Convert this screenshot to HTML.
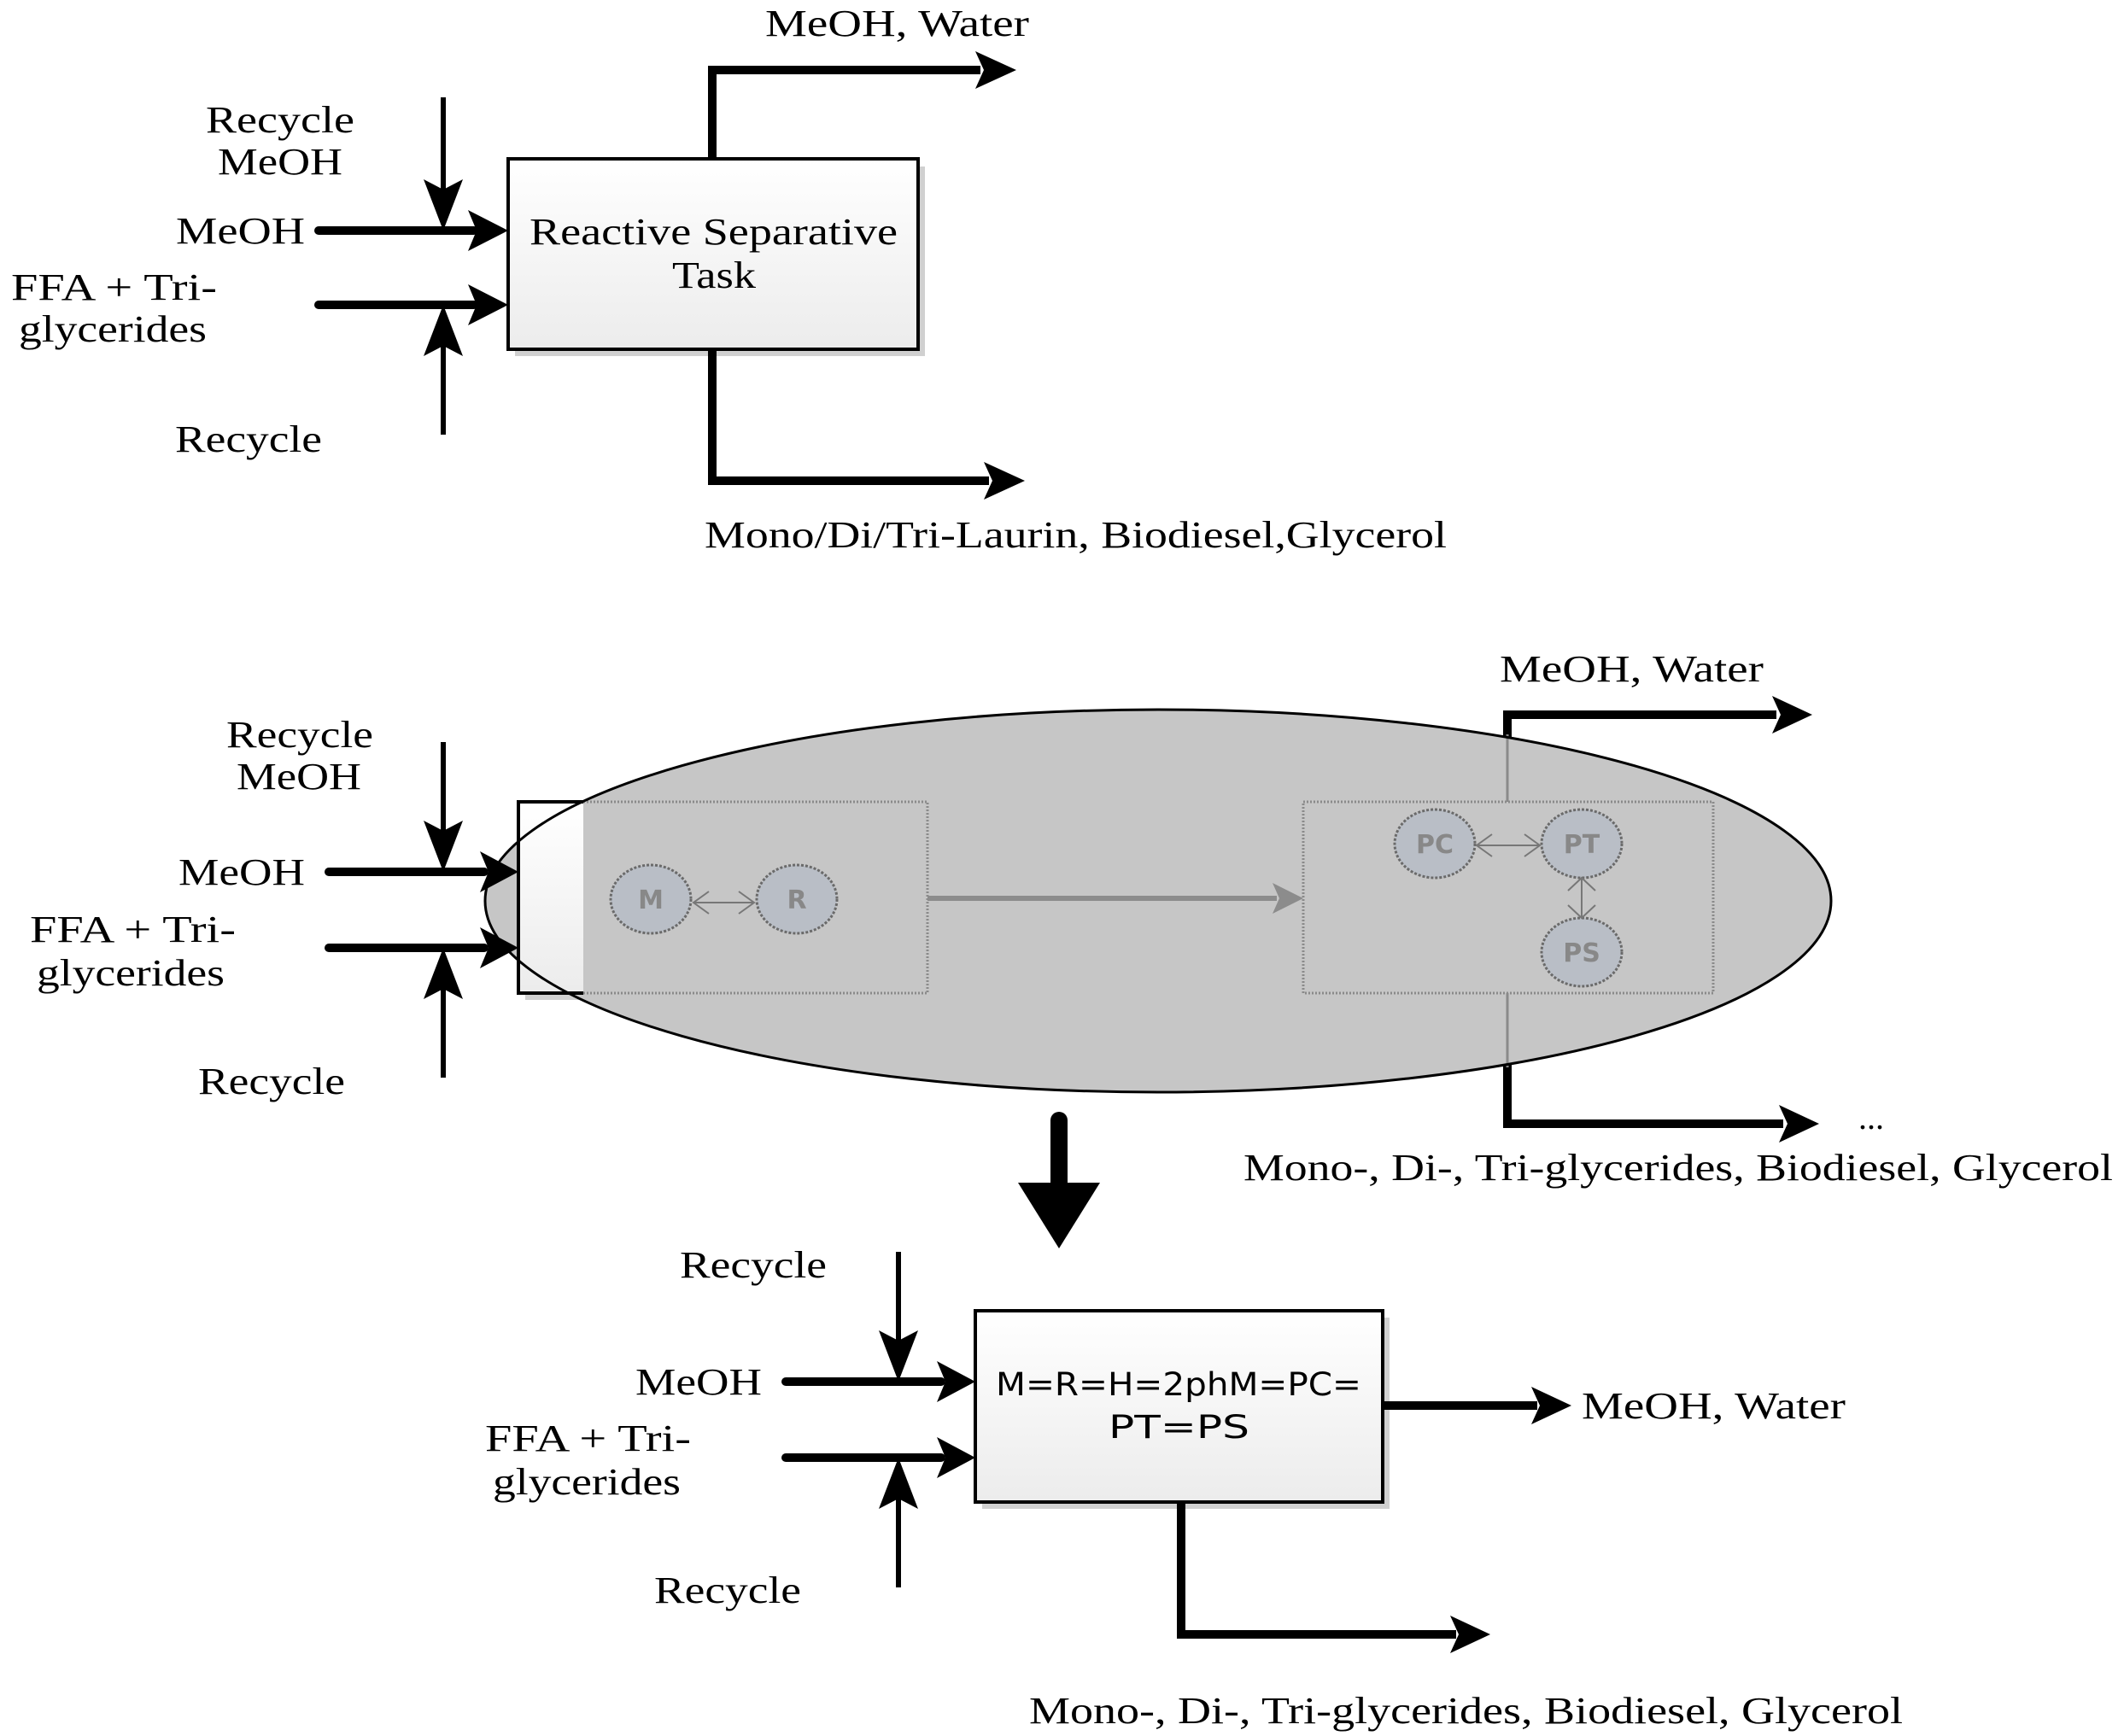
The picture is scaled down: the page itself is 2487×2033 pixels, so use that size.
<!DOCTYPE html>
<html><head><meta charset="utf-8"><style>html,body{margin:0;padding:0;background:#fff}svg{display:block}</style></head>
<body>
<svg width="2487" height="2033" viewBox="0 0 2487 2033" xmlns="http://www.w3.org/2000/svg" font-family="'Liberation Serif', serif" font-size="44" fill="#000">
<defs>
<linearGradient id="bg" x1="0" y1="0" x2="0" y2="1"><stop offset="0" stop-color="#ffffff"/><stop offset="1" stop-color="#ececec"/></linearGradient>
</defs>

<!-- ========== TOP ========== -->
<rect x="603" y="195" width="480" height="222" fill="#d0d0d0"/>
<rect x="595" y="186" width="480" height="223" fill="url(#bg)" stroke="#000" stroke-width="4"/>
<text x="620" y="286" textLength="431" lengthAdjust="spacingAndGlyphs">Reactive Separative</text>
<text x="787" y="337" textLength="98" lengthAdjust="spacingAndGlyphs">Task</text>
<!-- top out -->
<polyline points="834,186 834,82 1148,82" fill="none" stroke="#000" stroke-width="10"/>
<polygon points="1190,82 1142,60 1152,82 1142,104"/>
<text x="896" y="42" textLength="309" lengthAdjust="spacingAndGlyphs">MeOH, Water</text>
<!-- bottom out -->
<polyline points="834,409 834,563 1158,563" fill="none" stroke="#000" stroke-width="10"/>
<polygon points="1200,563 1152,541 1162,563 1152,585"/>
<text x="825" y="641" textLength="869" lengthAdjust="spacingAndGlyphs">Mono/Di/Tri-Laurin, Biodiesel,Glycerol</text>
<!-- inputs -->
<line x1="373" y1="270" x2="555" y2="270" stroke="#000" stroke-width="10" stroke-linecap="round"/>
<polygon points="595,270 548,246 558,270 548,294"/>
<line x1="373" y1="357" x2="555" y2="357" stroke="#000" stroke-width="10" stroke-linecap="round"/>
<polygon points="595,357 548,333 558,357 548,381"/>
<line x1="519" y1="114" x2="519" y2="230" stroke="#000" stroke-width="6"/>
<polygon points="519,270 496,210 519,222 542,210"/>
<line x1="519" y1="509" x2="519" y2="395" stroke="#000" stroke-width="6"/>
<polygon points="519,357 496,417 519,405 542,417"/>
<text x="241" y="155" textLength="174" lengthAdjust="spacingAndGlyphs">Recycle</text>
<text x="255" y="204" textLength="146" lengthAdjust="spacingAndGlyphs">MeOH</text>
<text x="206" y="285" textLength="151" lengthAdjust="spacingAndGlyphs">MeOH</text>
<text x="13" y="351" textLength="241" lengthAdjust="spacingAndGlyphs">FFA + Tri-</text>
<text x="22" y="400" textLength="220" lengthAdjust="spacingAndGlyphs">glycerides</text>
<text x="205" y="529" textLength="172" lengthAdjust="spacingAndGlyphs">Recycle</text>

<!-- ========== MIDDLE ========== -->
<!-- right outputs -->
<polyline points="1765,939 1765,837 2080,837" fill="none" stroke="#000" stroke-width="10"/>
<polygon points="2122,837 2075,815 2085,837 2075,859"/>
<polyline points="1765,1163 1765,1316 2088,1316" fill="none" stroke="#000" stroke-width="10"/>
<polygon points="2130,1316 2083,1294 2093,1316 2083,1338"/>
<text x="1756" y="798" textLength="309" lengthAdjust="spacingAndGlyphs">MeOH, Water</text>
<text x="2176" y="1322" font-size="40">...</text>
<text x="1456" y="1382" textLength="1018" lengthAdjust="spacingAndGlyphs">Mono-, Di-, Tri-glycerides, Biodiesel, Glycerol</text>

<!-- left box shadow + base -->
<rect x="615" y="947" width="479" height="224" fill="#d0d0d0"/>
<rect x="607" y="939" width="479" height="224" fill="url(#bg)" stroke="#000" stroke-width="4"/>
<!-- ellipse -->
<ellipse cx="1356" cy="1055" rx="788" ry="224" fill="#c6c6c6"/>
<!-- white left part of box over ellipse -->
<rect x="609" y="941" width="74" height="220" fill="url(#bg)"/>
<line x1="607" y1="939" x2="683" y2="939" stroke="#000" stroke-width="4"/>
<line x1="607" y1="1163" x2="683" y2="1163" stroke="#000" stroke-width="4"/>
<line x1="607" y1="937" x2="607" y2="1165" stroke="#000" stroke-width="4"/>
<!-- dotted box outlines -->
<polyline points="683,939 1086,939 1086,1163 683,1163" fill="none" stroke="#8a8a8a" stroke-width="3" stroke-dasharray="2,2"/>
<rect x="1526" y="939" width="480" height="224" fill="none" stroke="#8a8a8a" stroke-width="3" stroke-dasharray="2,2"/>
<line x1="1765" y1="860" x2="1765" y2="939" stroke="#8a8a8a" stroke-width="3"/>
<line x1="1765" y1="1163" x2="1765" y2="1250" stroke="#8a8a8a" stroke-width="3"/>
<!-- gray arrow -->
<line x1="1086" y1="1052" x2="1495" y2="1052" stroke="#8c8c8c" stroke-width="6"/>
<polygon points="1526,1052 1490,1034 1498,1052 1490,1070" fill="#8c8c8c"/>
<!-- nodes -->
<g fill="#b9bec6" stroke="#6a6a6a" stroke-width="3" stroke-dasharray="3,2">
<ellipse cx="762" cy="1053" rx="47" ry="40"/>
<ellipse cx="933" cy="1053" rx="47" ry="40"/>
<ellipse cx="1680" cy="988" rx="47" ry="40"/>
<ellipse cx="1852" cy="988" rx="47" ry="40"/>
<ellipse cx="1852" cy="1115" rx="47" ry="40"/>
</g>
<g stroke="#777" stroke-width="2" fill="none">
<line x1="812" y1="1057" x2="883" y2="1057"/>
<polyline points="830,1044 812,1057 830,1070"/><polyline points="865,1044 883,1057 865,1070"/>
<line x1="1729" y1="990" x2="1803" y2="990"/>
<polyline points="1747,977 1729,990 1747,1003"/><polyline points="1785,977 1803,990 1785,1003"/>
<line x1="1852" y1="1028" x2="1852" y2="1075"/>
<polyline points="1836,1043 1852,1028 1868,1043"/><polyline points="1836,1060 1852,1075 1868,1060"/>
</g>
<g font-family="'DejaVu Sans', 'Liberation Sans', sans-serif" font-size="30" fill="#888" font-weight="bold" text-anchor="middle">
<text x="762" y="1064">M</text>
<text x="933" y="1064">R</text>
<text x="1680" y="999">PC</text>
<text x="1852" y="999">PT</text>
<text x="1852" y="1126">PS</text>
</g>
<ellipse cx="1356" cy="1055" rx="788" ry="224" fill="none" stroke="#000" stroke-width="3"/>

<!-- middle inputs -->
<line x1="385" y1="1021" x2="567" y2="1021" stroke="#000" stroke-width="10" stroke-linecap="round"/>
<polygon points="607,1021 562,997 572,1021 562,1045"/>
<line x1="385" y1="1110" x2="567" y2="1110" stroke="#000" stroke-width="10" stroke-linecap="round"/>
<polygon points="607,1110 562,1086 572,1110 562,1134"/>
<line x1="519" y1="869" x2="519" y2="981" stroke="#000" stroke-width="6"/>
<polygon points="519,1021 496,961 519,973 542,961"/>
<line x1="519" y1="1262" x2="519" y2="1150" stroke="#000" stroke-width="6"/>
<polygon points="519,1110 496,1170 519,1158 542,1170"/>
<text x="265" y="875" textLength="172" lengthAdjust="spacingAndGlyphs">Recycle</text>
<text x="277" y="924" textLength="146" lengthAdjust="spacingAndGlyphs">MeOH</text>
<text x="209" y="1036" textLength="148" lengthAdjust="spacingAndGlyphs">MeOH</text>
<text x="35" y="1103" textLength="241" lengthAdjust="spacingAndGlyphs">FFA + Tri-</text>
<text x="43" y="1154" textLength="220" lengthAdjust="spacingAndGlyphs">glycerides</text>
<text x="232" y="1281" textLength="172" lengthAdjust="spacingAndGlyphs">Recycle</text>

<!-- big down arrow -->
<line x1="1240" y1="1312" x2="1240" y2="1392" stroke="#000" stroke-width="20" stroke-linecap="round"/>
<polygon points="1192,1385 1288,1385 1240,1462"/>

<!-- ========== BOTTOM ========== -->
<rect x="1150" y="1543" width="477" height="224" fill="#d0d0d0"/>
<rect x="1142" y="1535" width="477" height="224" fill="url(#bg)" stroke="#000" stroke-width="4"/>
<g font-family="'DejaVu Sans', 'Liberation Sans', sans-serif" font-size="37">
<text x="1166" y="1634" textLength="428" lengthAdjust="spacingAndGlyphs">M=R=H=2phM=PC=</text>
<text x="1298" y="1684" textLength="165" lengthAdjust="spacingAndGlyphs">PT=PS</text>
</g>
<line x1="1619" y1="1646" x2="1800" y2="1646" stroke="#000" stroke-width="10"/>
<polygon points="1840,1646 1793,1624 1803,1646 1793,1668"/>
<text x="1852" y="1661" textLength="309" lengthAdjust="spacingAndGlyphs">MeOH, Water</text>
<polyline points="1383,1759 1383,1914 1705,1914" fill="none" stroke="#000" stroke-width="10"/>
<polygon points="1745,1914 1698,1892 1708,1914 1698,1936"/>
<text x="1205" y="2018" textLength="1023" lengthAdjust="spacingAndGlyphs">Mono-, Di-, Tri-glycerides, Biodiesel, Glycerol</text>
<!-- inputs -->
<line x1="920" y1="1618" x2="1102" y2="1618" stroke="#000" stroke-width="10" stroke-linecap="round"/>
<polygon points="1142,1618 1097,1594 1107,1618 1097,1642"/>
<line x1="920" y1="1707" x2="1102" y2="1707" stroke="#000" stroke-width="10" stroke-linecap="round"/>
<polygon points="1142,1707 1097,1683 1107,1707 1097,1731"/>
<line x1="1052" y1="1466" x2="1052" y2="1578" stroke="#000" stroke-width="6"/>
<polygon points="1052,1618 1029,1558 1052,1570 1075,1558"/>
<line x1="1052" y1="1859" x2="1052" y2="1747" stroke="#000" stroke-width="6"/>
<polygon points="1052,1707 1029,1767 1052,1755 1075,1767"/>
<text x="796" y="1496" textLength="172" lengthAdjust="spacingAndGlyphs">Recycle</text>
<text x="744" y="1633" textLength="148" lengthAdjust="spacingAndGlyphs">MeOH</text>
<text x="568" y="1699" textLength="241" lengthAdjust="spacingAndGlyphs">FFA + Tri-</text>
<text x="577" y="1750" textLength="220" lengthAdjust="spacingAndGlyphs">glycerides</text>
<text x="766" y="1877" textLength="172" lengthAdjust="spacingAndGlyphs">Recycle</text>
</svg>
</body></html>
